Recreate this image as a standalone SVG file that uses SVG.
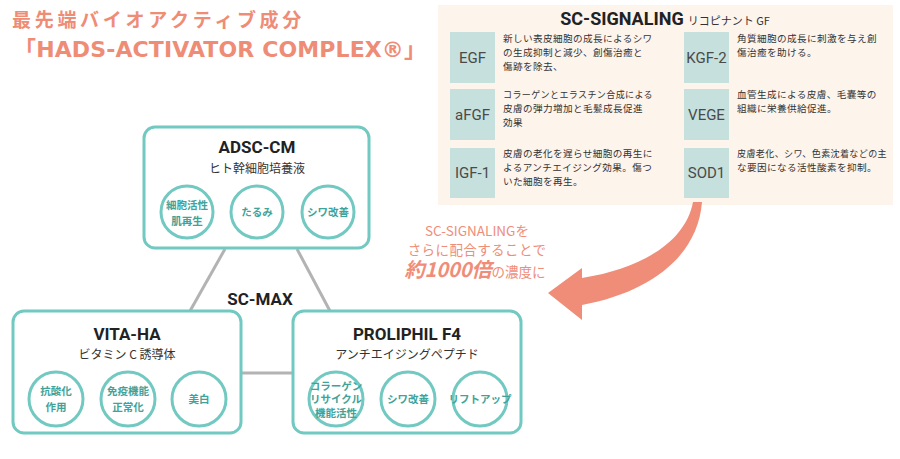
<svg xmlns="http://www.w3.org/2000/svg" width="900" height="459" viewBox="0 0 900 459">
<defs>
<style>
.jp{font-family:"Noto Sans CJK JP","Noto Sans",sans-serif;}
.lat{font-family:Roboto,"Liberation Sans","Noto Sans CJK JP",sans-serif;}
.title{fill:#ef8c76;font-weight:bold;}
.box{fill:#fff;stroke:#72c9c1;stroke-width:3;}
.circ{fill:#fff;stroke:#72c9c1;stroke-width:3;}
.ctext{fill:#3fa39a;font-weight:bold;font-size:10.5px;text-anchor:middle;}
.head{fill:#222;font-weight:bold;font-size:17px;text-anchor:middle;}
.sub{fill:#333;font-size:12px;text-anchor:middle;}
.gf{fill:#c6e0dd;}
.gfl{fill:#4a4a4a;font-size:15px;text-anchor:middle;}
.desc{fill:#333;font-size:9.6px;letter-spacing:0.4px;}
.pink{fill:#f08d78;}
.conn{stroke:#b3b3b3;stroke-width:3;fill:none;}
</style>
</defs>
<rect width="900" height="459" fill="#fff"/>

<g id="title">
<text class="jp title" x="12" y="27" font-size="19" letter-spacing="3.7">最先端バイオアクティブ成分</text>
<text class="title" x="14" y="57" font-size="22" textLength="412" lengthAdjust="spacing"><tspan class="jp">「</tspan><tspan font-family="'DejaVu Sans','Liberation Sans',sans-serif">HADS-ACTIVATOR COMPLEX®</tspan><tspan class="jp">」</tspan></text>
</g>

<g id="sc-signaling">
<rect x="438" y="5" width="455" height="200" fill="#fdf4ec"/>
<text x="665" y="25" text-anchor="middle"><tspan class="lat" font-weight="bold" font-size="18" fill="#222">SC-SIGNALING</tspan><tspan class="jp" font-size="11" fill="#333" dx="4">リコピナント GF</tspan></text>

<rect class="gf" x="450" y="32" width="45" height="51"/>
<text class="lat gfl" x="472.5" y="63">EGF</text>
<text class="jp desc"><tspan x="503" y="41.5">新しい表皮細胞の成長によるシワ</tspan><tspan x="503" y="55.5">の生成抑制と減少、創傷治癒と</tspan><tspan x="503" y="69.5">傷跡を除去、</tspan></text>

<rect class="gf" x="684" y="32" width="45" height="51"/>
<text class="lat gfl" x="706.5" y="63">KGF-2</text>
<text class="jp desc"><tspan x="737" y="41.5">角質細胞の成長に刺激を与え創</tspan><tspan x="737" y="55.5">傷治癒を助ける。</tspan></text>

<rect class="gf" x="450" y="89" width="45" height="51"/>
<text class="lat gfl" x="472.5" y="120">aFGF</text>
<text class="jp desc" x="503" y="98" textLength="150" lengthAdjust="spacingAndGlyphs">コラーゲンとエラスチン合成による</text>
<text class="jp desc"><tspan x="503" y="112">皮膚の弾力増加と毛髪成長促進</tspan><tspan x="503" y="126">効果</tspan></text>

<rect class="gf" x="684" y="89" width="45" height="51"/>
<text class="lat gfl" x="706.5" y="120">VEGE</text>
<text class="jp desc"><tspan x="737" y="98">血管生成による皮膚、毛嚢等の</tspan><tspan x="737" y="112">組織に栄養供給促進。</tspan></text>

<rect class="gf" x="450" y="148" width="45" height="50"/>
<text class="lat gfl" x="472.5" y="178">IGF-1</text>
<text class="jp desc"><tspan x="503" y="157">皮膚の老化を遅らせ細胞の再生に</tspan><tspan x="503" y="171">よるアンチエイジング効果。傷つ</tspan><tspan x="503" y="185">いた細胞を再生。</tspan></text>

<rect class="gf" x="684" y="148" width="45" height="50"/>
<text class="lat gfl" x="706.5" y="178">SOD1</text>
<text class="jp desc" x="737" y="157" textLength="150" lengthAdjust="spacingAndGlyphs">皮膚老化、シワ、色素沈着などの主</text>
<text class="jp desc" x="737" y="171">な要因になる活性酸素を抑制。</text>
</g>

<g id="arrow">
<path class="pink" d="M693,202 C686,240 645,268 582,278 L582,268 L548,293 L582,320 L582,305 C652,292 698,255 702,202 Z"/>
</g>
<g id="arrow-label">
<text class="jp pink" x="477" y="236" font-size="13.5" text-anchor="middle">SC-SIGNALINGを</text>
<text class="jp pink" x="477" y="255" font-size="13.5" text-anchor="middle" letter-spacing="0.4">さらに配合することで</text>
<text x="475" y="277" text-anchor="middle"><tspan class="jp pink" font-size="20" font-weight="bold" font-style="italic">約1000倍</tspan><tspan class="jp pink" font-size="13.5">の濃度に</tspan></text>
</g>

<g id="connectors">
<line class="conn" x1="225" y1="249" x2="190" y2="311"/>
<line class="conn" x1="297" y1="249" x2="330" y2="311"/>
<line class="conn" x1="241" y1="373" x2="293" y2="373"/>
</g>

<g id="sc-max">
<text class="lat" x="260" y="305" font-size="17" font-weight="bold" fill="#222" text-anchor="middle">SC-MAX</text>
</g>

<g id="adsc-cm">
<rect class="box" x="144" y="127" width="225" height="121" rx="11"/>
<text class="lat head" x="257" y="153">ADSC-CM</text>
<text class="jp sub" x="257" y="173" font-size="12.5">ヒト幹細胞培養液</text>
<circle class="circ" cx="187" cy="212" r="26"/>
<text class="jp ctext"><tspan x="187" y="209">細胞活性</tspan><tspan x="187" y="225">肌再生</tspan></text>
<circle class="circ" cx="257" cy="212" r="26"/>
<text class="jp ctext" x="257" y="216">たるみ</text>
<circle class="circ" cx="328" cy="212" r="26"/>
<text class="jp ctext" x="328" y="216">シワ改善</text>
</g>

<g id="vita-ha">
<rect class="box" x="13" y="311" width="228" height="122" rx="11"/>
<text class="lat head" x="127" y="340">VITA-HA</text>
<text class="jp sub" x="127" y="359">ビタミン C 誘導体</text>
<circle class="circ" cx="56" cy="399" r="27"/>
<text class="jp ctext"><tspan x="56" y="395">抗酸化</tspan><tspan x="56" y="411">作用</tspan></text>
<circle class="circ" cx="128" cy="399" r="27"/>
<text class="jp ctext"><tspan x="128" y="395">免疫機能</tspan><tspan x="128" y="411">正常化</tspan></text>
<circle class="circ" cx="199" cy="399" r="27"/>
<text class="jp ctext" x="199" y="403">美白</text>
</g>

<g id="proliphil">
<rect class="box" x="293" y="311" width="228" height="122" rx="11"/>
<text class="lat head" x="407" y="340">PROLIPHIL F4</text>
<text class="jp sub" x="407" y="359">アンチエイジングペプチド</text>
<circle class="circ" cx="336" cy="399" r="27"/>
<text class="jp ctext" font-size="9.3"><tspan x="336" y="389.5">コラーゲン</tspan><tspan x="336" y="403">リサイクル</tspan><tspan x="336" y="416.5">機能活性</tspan></text>
<circle class="circ" cx="408" cy="399" r="27"/>
<text class="jp ctext" x="408" y="403">シワ改善</text>
<circle class="circ" cx="480" cy="399" r="27"/>
<text class="jp ctext" x="480" y="403" font-size="10">リフトアップ</text>
</g>
</svg>
